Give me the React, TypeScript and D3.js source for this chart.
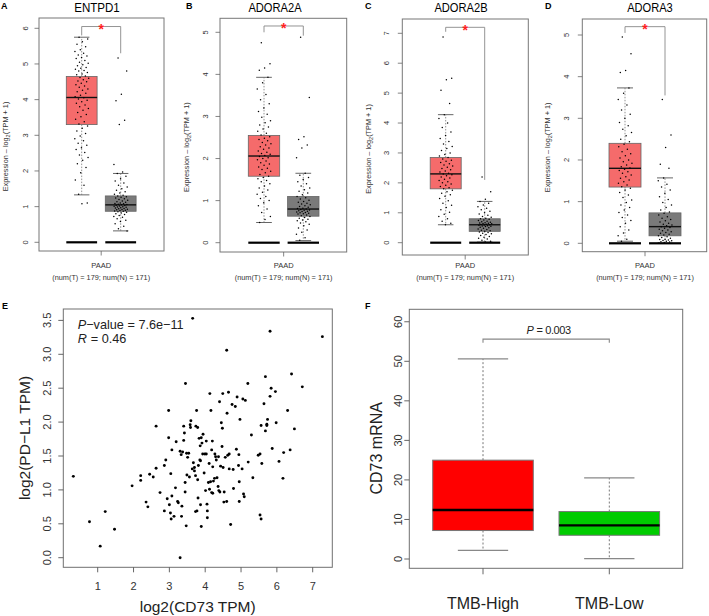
import React from "react";
import * as d3 from "d3";

const FONT = "'Liberation Sans', Arial, Helvetica, sans-serif";

// ---------- Panels A-D (GEPIA box plots) ----------
const genes = ["ENTPD1", "ADORA2A", "ADORA2B", "ADORA3"];
const panelLetters = ["A", "B", "C", "D"];
const yMaxTick = [6, 5, 7, 5];
const cancerLabel = "PAAD";
const countLabel = "(num(T) = 179; num(N) = 171)";
// [whiskerLow, q1, median, q3, whiskerHigh]
const tumorStats = [
  [1.33, 3.3, 4.06, 4.65, 5.75],
  [0.48, 1.58, 2.06, 2.55, 3.93],
  [0.6, 1.8, 2.3, 2.85, 4.28],
  [0.05, 1.35, 1.8, 2.4, 3.73],
];
const normalStats = [
  [0.32, 0.87, 1.05, 1.3, 1.93],
  [0.05, 0.63, 0.8, 1.1, 1.65],
  [0.02, 0.38, 0.6, 0.8, 1.38],
  [0.0, 0.18, 0.4, 0.73, 1.57],
];
const bracketTop = [6.05, 5.15, 7.2, 5.2];
const bracketLeftEnd = [5.8, 5.0, 7.05, 5.05];
const bracketRightEnd = [5.3, 4.92, 2.1, 3.55];

const tumorA = [5.75,5.7,5.62,5.55,5.48,5.4,5.35,5.3,5.25,5.22,5.18,5.15,5.1,5.05,5.02,4.98,4.95,4.9,4.88,4.85,4.82,4.8,4.76,4.72,4.7,4.66,4.62,4.6,4.56,4.52,4.5,4.46,4.42,4.38,4.35,4.3,4.26,4.22,4.18,4.12,4.08,4.05,4.02,3.98,3.94,3.9,3.85,3.8,3.75,3.7,3.64,3.58,3.52,3.45,3.38,3.32,3.26,3.2,3.12,3.05,2.98,2.9,2.85,2.78,2.72,2.65,2.6,2.52,2.45,2.38,2.3,2.2,2.1,1.95,1.75,1.6,1.35,1.1,1.08];
const normalA = [5.17,4.8,4.15,3.97,3.42,3.3,2.18,1.97,1.93,1.85,1.78,1.72,1.66,1.6,1.55,1.5,1.46,1.42,1.38,1.35,1.32,1.3,1.28,1.26,1.24,1.22,1.2,1.18,1.16,1.14,1.12,1.1,1.09,1.08,1.07,1.06,1.05,1.04,1.03,1.02,1.01,1.0,0.99,0.98,0.97,0.96,0.95,0.94,0.93,0.92,0.91,0.9,0.89,0.88,0.87,0.86,0.84,0.82,0.8,0.78,0.75,0.72,0.7,0.66,0.62,0.58,0.52,0.45,0.38,0.32];
const tumorB = [4.75,4.25,4.15,4.1,3.93,3.8,3.65,3.52,3.4,3.3,3.2,3.12,3.05,2.98,2.9,2.85,2.8,2.75,2.7,2.65,2.6,2.56,2.52,2.48,2.45,2.42,2.38,2.35,2.32,2.28,2.25,2.22,2.18,2.15,2.12,2.1,2.07,2.05,2.02,2.0,1.97,1.94,1.9,1.87,1.84,1.8,1.77,1.74,1.7,1.66,1.62,1.58,1.55,1.52,1.48,1.45,1.4,1.35,1.3,1.25,1.2,1.15,1.1,1.05,1.0,0.95,0.88,0.8,0.72,0.62,0.55,0.48];
const normalB = [4.88,3.45,2.52,2.45,2.32,2.25,2.02,1.65,1.6,1.55,1.5,1.45,1.4,1.35,1.3,1.26,1.22,1.18,1.14,1.1,1.07,1.04,1.01,0.98,0.96,0.94,0.92,0.9,0.88,0.86,0.84,0.82,0.81,0.8,0.79,0.78,0.77,0.76,0.75,0.74,0.73,0.72,0.71,0.7,0.69,0.68,0.66,0.64,0.62,0.6,0.58,0.56,0.54,0.52,0.5,0.47,0.44,0.4,0.35,0.3,0.25,0.2,0.12,0.06];
const tumorC = [6.88,5.5,5.45,5.1,4.65,4.28,4.15,4.0,3.85,3.7,3.58,3.48,3.38,3.3,3.22,3.15,3.08,3.0,2.95,2.9,2.85,2.8,2.76,2.72,2.68,2.64,2.6,2.56,2.52,2.48,2.44,2.4,2.36,2.32,2.3,2.27,2.24,2.2,2.16,2.12,2.08,2.04,2.0,1.96,1.92,1.88,1.84,1.8,1.75,1.7,1.65,1.6,1.55,1.48,1.4,1.32,1.25,1.18,1.1,1.02,0.95,0.88,0.8,0.72,0.65,0.6];
const normalC = [2.2,1.7,1.45,1.38,1.32,1.26,1.2,1.15,1.1,1.05,1.0,0.96,0.92,0.88,0.85,0.82,0.8,0.78,0.76,0.74,0.72,0.7,0.68,0.67,0.66,0.65,0.64,0.63,0.62,0.61,0.6,0.59,0.58,0.57,0.56,0.55,0.54,0.52,0.5,0.48,0.46,0.44,0.42,0.4,0.38,0.36,0.34,0.32,0.3,0.27,0.24,0.21,0.18,0.15,0.12,0.08,0.05,0.02];
const tumorD = [4.95,4.55,4.15,4.1,3.73,3.6,3.45,3.32,3.2,3.1,3.0,2.9,2.82,2.74,2.66,2.58,2.5,2.44,2.38,2.32,2.26,2.2,2.15,2.1,2.05,2.0,1.96,1.92,1.88,1.84,1.81,1.78,1.75,1.72,1.68,1.64,1.6,1.56,1.52,1.48,1.44,1.4,1.36,1.32,1.28,1.22,1.16,1.1,1.04,0.98,0.92,0.86,0.8,0.74,0.68,0.62,0.55,0.48,0.4,0.32,0.25,0.18,0.1,0.05];
const normalD = [3.45,2.6,2.3,1.9,1.8,1.57,1.5,1.42,1.35,1.28,1.2,1.12,1.05,0.98,0.92,0.86,0.8,0.75,0.72,0.68,0.64,0.6,0.57,0.54,0.51,0.48,0.46,0.44,0.42,0.4,0.38,0.36,0.34,0.32,0.3,0.28,0.26,0.24,0.22,0.2,0.18,0.16,0.14,0.12,0.1,0.09,0.08,0.07,0.06,0.05,0.04,0.03,0.02,0.01];
const tumorPoints = [tumorA, tumorB, tumorC, tumorD];
const normalPoints = [normalA, normalB, normalC, normalD];

// ---------- Panel E (scatter) ----------
const cd73 = [0.32,0.77,1.07,1.21,1.47,1.96,2.2,2.2,2.35,2.4,2.45,2.55,2.63,2.63,2.74,2.86,2.9,2.86,2.94,2.98,2.98,3.0,3.03,3.04,3.05,3.07,3.07,3.13,3.17,3.19,3.23,3.25,3.3,3.3,3.33,3.34,3.35,3.37,3.4,3.4,3.42,3.44,3.44,3.45,3.47,3.48,3.49,3.51,3.54,3.56,3.58,3.59,3.6,3.64,3.67,3.7,3.7,3.73,3.73,3.74,3.76,3.77,3.79,3.79,3.8,3.81,3.83,3.85,3.86,3.87,3.87,3.89,3.89,3.91,3.93,3.94,3.97,3.99,4.01,4.03,4.03,4.05,4.06,4.06,4.09,4.11,4.12,4.13,4.15,4.16,4.18,4.18,4.2,4.21,4.21,4.23,4.26,4.27,4.29,4.31,4.33,4.36,4.37,4.38,4.4,4.41,4.43,4.45,4.47,4.48,4.49,4.5,4.52,4.53,4.56,4.6,4.6,4.61,4.63,4.65,4.67,4.67,4.71,4.75,4.78,4.79,4.84,4.87,4.89,4.93,4.94,4.95,4.95,4.97,5.03,5.05,5.07,5.09,5.12,5.19,5.2,5.29,5.33,5.48,5.53,5.53,5.56,5.56,5.58,5.64,5.68,5.68,5.72,5.72,5.74,5.81,5.81,5.84,5.87,5.96,5.98,6.06,6.17,6.19,6.3,6.37,6.41,6.49,6.71,7.27,3.65];
const pdl1 = [1.2,0.53,0.17,0.68,0.42,1.06,1.21,1.14,0.82,0.75,1.23,1.19,1.32,1.94,0.96,1.36,1.44,0.69,0.87,2.17,1.77,0.78,0.66,1.24,0.57,1.59,0.91,0.61,1.03,1.71,0.83,0.81,1.57,0.0,1.52,0.61,0.76,1.56,1.73,1.94,1.84,0.97,1.11,2.57,0.47,1.54,1.22,1.48,1.54,1.19,1.96,1.92,2.02,1.31,1.4,1.33,1.28,0.68,1.21,1.94,2.17,0.69,1.92,1.15,0.88,1.36,1.76,1.44,1.65,1.43,0.78,1.77,0.46,1.69,1.53,1.82,1.25,1.53,0.99,1.72,1.53,0.79,0.69,0.59,1.11,1.39,1.01,2.42,1.12,2.17,1.59,0.96,1.72,0.95,1.34,1.13,1.17,1.53,1.49,1.44,1.18,1.05,1.49,0.99,2.3,0.97,1.35,1.99,1.64,1.91,2.42,1.33,0.82,0.97,1.48,3.06,0.83,2.13,1.51,2.44,1.53,1.31,0.49,2.26,1.3,1.02,2.23,1.6,2.37,1.36,1.52,1.12,0.83,2.04,1.31,2.34,0.94,0.9,2.32,2.57,1.41,1.81,1.18,1.51,1.53,0.63,0.57,1.95,1.39,2.27,2.67,1.87,1.97,1.95,2.04,3.34,2.38,2.5,1.61,2.45,1.99,1.42,1.17,1.55,2.17,1.59,2.71,1.9,2.52,3.26,3.53];
const eXTicks = [1, 2, 3, 4, 5, 6, 7];
const eYTicks = [0, 0.5, 1, 1.5, 2, 2.5, 3, 3.5];

// ---------- Panel F (box plot) ----------
const tmbGroups = ["TMB-High", "TMB-Low"];
// [whiskerLow, q1, median, q3, whiskerHigh]
const tmbStats = [
  [2.2, 7.2, 12.4, 25.0, 50.6],
  [0.1, 6.0, 8.5, 12.0, 20.5],
];
const tmbColors = ["#FF0000", "#00CC00"];
const fYTicks = [0, 10, 20, 30, 40, 50, 60];
const fBracketY = 55.6;

// layout of panels A-D
const gLayouts = [
  { L: 39, R: 164, T: 18, B: 251, y0: 242.3, yTopPx: 28.3, tc: 81.7, nc: 120.7, hw: 15.4, tickX: 25, labX: 5, titleX: 97, letterX: 1 },
  { L: 220, R: 346.7, T: 18.3, B: 252, y0: 242.7, yTopPx: 32.3, tc: 264, nc: 303.3, hw: 15.7, tickX: 205.7, labX: 186.7, titleX: 275, letterX: 186 },
  { L: 402.3, R: 528.3, T: 19, B: 255, y0: 242.7, yTopPx: 33.3, tc: 445.7, nc: 484.7, hw: 15.5, tickX: 386, labX: 368, titleX: 461, letterX: 365 },
  { L: 582.3, R: 706.7, T: 19, B: 251.7, y0: 243.3, yTopPx: 35, tc: 625, nc: 665, hw: 16, tickX: 566.7, labX: 547.7, titleX: 650, letterX: 545 },
];

function jitter(i: number, w: number) {
  const f = (i * 0.6180339887 + 0.31) % 1;
  return (f - 0.5) * 2 * w;
}

function GBox({ cx, hw, stats, fill, y, pts }: any) {
  const [lo, q1, med, q3, hi] = stats;
  return (
    <g>
      <line x1={cx} x2={cx} y1={y(q3)} y2={y(hi)} stroke="#777" strokeWidth={0.8} strokeDasharray="1.5,1.5" />
      <line x1={cx} x2={cx} y1={y(q1)} y2={y(lo)} stroke="#777" strokeWidth={0.8} strokeDasharray="1.5,1.5" />
      <line x1={cx - hw / 2} x2={cx + hw / 2} y1={y(hi)} y2={y(hi)} stroke="#666" strokeWidth={1} />
      <line x1={cx - hw / 2} x2={cx + hw / 2} y1={y(lo)} y2={y(lo)} stroke="#666" strokeWidth={1} />
      <rect x={cx - hw} y={y(q3)} width={hw * 2} height={y(q1) - y(q3)} fill={fill} stroke="#666" strokeWidth={0.8} />
      <line x1={cx - hw} x2={cx + hw} y1={y(med)} y2={y(med)} stroke="#111" strokeWidth={1.4} />
      {pts.map((v: number, i: number) => (
        <circle key={i} cx={cx + jitter(i, 7)} cy={y(v)} r={0.75} fill="#000" />
      ))}
      <line x1={cx - hw} x2={cx + hw} y1={y(0)} y2={y(0)} stroke="#000" strokeWidth={2.2} />
    </g>
  );
}

function GepiaPanel({ idx }: { idx: number }) {
  const g = gLayouts[idx];
  const y = d3.scaleLinear().domain([0, yMaxTick[idx]]).range([g.y0, g.yTopPx]);
  const ticks = d3.range(0, yMaxTick[idx] + 1);
  const mid = (g.tc + g.nc) / 2;
  const labY = (g.T + g.B) / 2 + 12;
  return (
    <g fontFamily={FONT}>
      <text x={g.letterX} y={9} fontSize={9} fontWeight="bold">{panelLetters[idx]}</text>
      <text x={g.titleX} y={11.5} fontSize={13.5} textAnchor="middle" textLength={genes[idx].length * 7.6} lengthAdjust="spacingAndGlyphs">{genes[idx]}</text>
      <rect x={g.L} y={g.T} width={g.R - g.L} height={g.B - g.T} fill="none" stroke="#777" strokeWidth={1} />
      {ticks.map((t) => (
        <g key={t}>
          <line x1={g.L - 4.5} x2={g.L} y1={y(t)} y2={y(t)} stroke="#666" strokeWidth={0.8} />
          <text transform={`translate(${g.tickX},${y(t)}) rotate(-90)`} dy="0.35em" fontSize={7.5} textAnchor="middle" fill="#333">{t}</text>
        </g>
      ))}
      <text transform={`translate(${g.labX},${labY}) rotate(-90)`} dy="0.35em" fontSize={7.3} textAnchor="middle" fill="#333">
        Expression – log<tspan fontSize={5.5} dy="2">2</tspan><tspan dy="-2">(TPM + 1)</tspan>
      </text>
      <line x1={mid} x2={mid} y1={g.B} y2={g.B + 4.5} stroke="#666" strokeWidth={0.8} />
      <text x={mid} y={268} fontSize={7.5} textAnchor="middle" fill="#333">{cancerLabel}</text>
      <text x={mid} y={279.5} fontSize={7.3} textAnchor="middle" fill="#333">{countLabel}</text>
      <GBox cx={g.tc} hw={g.hw} stats={tumorStats[idx]} fill="#F56B6B" y={y} pts={tumorPoints[idx]} />
      <GBox cx={g.nc} hw={g.hw} stats={normalStats[idx]} fill="#7A7A7A" y={y} pts={normalPoints[idx]} />
      <path
        d={`M${g.tc},${y(bracketLeftEnd[idx])}V${y(bracketTop[idx])}H${g.nc}V${y(bracketRightEnd[idx])}`}
        fill="none" stroke="#888" strokeWidth={0.9}
      />
      <text x={(g.tc + g.nc) / 2} y={y(bracketTop[idx]) + 7.5} fontSize={14} fill="#FF2020" textAnchor="middle" fontWeight="bold">*</text>
    </g>
  );
}

function ScatterPanel() {
  const x = d3.scaleLinear().domain([1, 7]).range([97.7, 312.7]);
  const y = d3.scaleLinear().domain([0, 3]).range([557.7, 354.3]);
  const L = 63.3, R = 332.3, T = 309, B = 567.3;
  return (
    <g fontFamily={FONT}>
      <text x={2} y={309} fontSize={9} fontWeight="bold">E</text>
      <rect x={L} y={T} width={R - L} height={B - T} fill="none" stroke="#707070" strokeWidth={1} />
      {eXTicks.map((t) => (
        <g key={t}>
          <line x1={x(t)} x2={x(t)} y1={B} y2={B + 5} stroke="#555" strokeWidth={0.9} />
          <text x={x(t)} y={590} fontSize={11} textAnchor="middle" fill="#333">{t}</text>
        </g>
      ))}
      {eYTicks.map((t) => (
        <g key={t}>
          <line x1={L - 5} x2={L} y1={y(t)} y2={y(t)} stroke="#555" strokeWidth={0.9} />
          <text transform={`translate(${46.7},${y(t)}) rotate(-90)`} dy="0.35em" fontSize={11} textAnchor="middle" fill="#333">{d3.format(".1f")(t)}</text>
        </g>
      ))}
      {cd73.map((v, i) => (
        <circle key={i} cx={x(v)} cy={y(pdl1[i])} r={1.45} fill="#000" />
      ))}
      <text x={77.7} y={328.5} fontSize={12.7} fill="#222" fontStyle="italic">P</text>
      <text x={86.2} y={328.5} fontSize={12.7} fill="#222">−value = 7.6e−11</text>
      <text x={77.7} y={343} fontSize={12.7} fill="#222" fontStyle="italic">R</text>
      <text x={90.8} y={343} fontSize={12.7} fill="#222">= 0.46</text>
      <text x={197.7} y={612} fontSize={15.5} textAnchor="middle" fill="#222">log2(CD73 TPM)</text>
      <text transform={`translate(${25},${438}) rotate(-90)`} dy="0.35em" fontSize={15.5} textAnchor="middle" fill="#222">log2(PD−L1 TPM)</text>
    </g>
  );
}

function TmbPanel() {
  const y = d3.scaleLinear().domain([0, 50]).range([559, 361.3]);
  const x = d3.scalePoint<string>().domain(tmbGroups).range([483, 609.3]);
  const L = 409.3, R = 682.7, T = 309.3, B = 568.3;
  const hw = 50.3;
  const x0 = x(tmbGroups[0]) as number, x1 = x(tmbGroups[1]) as number;
  return (
    <g fontFamily={FONT}>
      <text x={365} y={309} fontSize={9} fontWeight="bold">F</text>
      <rect x={L} y={T} width={R - L} height={B - T} fill="none" stroke="#707070" strokeWidth={1} />
      {fYTicks.map((t) => (
        <g key={t}>
          <line x1={L - 5} x2={L} y1={y(t)} y2={y(t)} stroke="#555" strokeWidth={0.9} />
          <text transform={`translate(${397.7},${y(t)}) rotate(-90)`} dy="0.35em" fontSize={11} textAnchor="middle" fill="#333">{t}</text>
        </g>
      ))}
      {tmbGroups.map((gname, i) => {
        const cx = x(gname) as number;
        const [lo, q1, med, q3, hi] = tmbStats[i];
        return (
          <g key={gname}>
            <line x1={cx} x2={cx} y1={y(q3)} y2={y(hi)} stroke="#777" strokeWidth={1} strokeDasharray="2,2" />
            <line x1={cx} x2={cx} y1={y(q1)} y2={y(lo)} stroke="#777" strokeWidth={1} strokeDasharray="2,2" />
            <line x1={cx - hw / 2} x2={cx + hw / 2} y1={y(hi)} y2={y(hi)} stroke="#888" strokeWidth={1.3} />
            <line x1={cx - hw / 2} x2={cx + hw / 2} y1={y(lo)} y2={y(lo)} stroke="#888" strokeWidth={1.3} />
            <rect x={cx - hw} y={y(q3)} width={hw * 2} height={y(q1) - y(q3)} fill={tmbColors[i]} stroke="#777" strokeWidth={1} />
            <line x1={cx - hw} x2={cx + hw} y1={y(med)} y2={y(med)} stroke="#000" strokeWidth={2.4} />
            <line x1={cx} x2={cx} y1={B} y2={B + 6} stroke="#555" strokeWidth={0.9} />
            <text x={cx} y={608.5} fontSize={16} textAnchor="middle" fill="#222">{gname}</text>
          </g>
        );
      })}
      <path d={`M${x0},${y(fBracketY) + 3.5}V${y(fBracketY)}H${x1}V${y(fBracketY) + 3.5}`} fill="none" stroke="#888" strokeWidth={1.1} />
      <text x={526.5} y={334} fontSize={11} fill="#222" fontStyle="italic">P</text>
      <text x={536.5} y={334} fontSize={11} fill="#222" letterSpacing={-0.4}>= 0.003</text>
      <text transform={`translate(${376},${448.3}) rotate(-90)`} dy="0.35em" fontSize={16} textAnchor="middle" fill="#222">CD73 mRNA</text>
    </g>
  );
}

export default function App() {
  return (
    <svg width={709} height={616} style={{ position: "absolute", left: 0, top: 0, background: "#fff" }}>
      <rect x={0} y={0} width={709} height={616} fill="#fff" />
      {[0, 1, 2, 3].map((i) => (
        <GepiaPanel key={i} idx={i} />
      ))}
      <ScatterPanel />
      <TmbPanel />
    </svg>
  );
}
